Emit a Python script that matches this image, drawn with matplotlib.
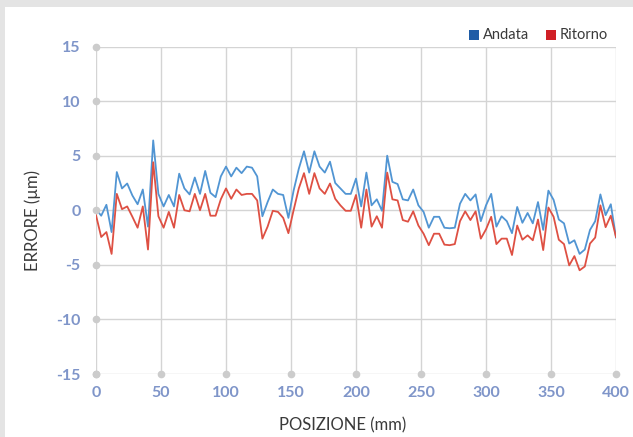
import numpy as np
import matplotlib
matplotlib.use("Agg")
import matplotlib.pyplot as plt
from matplotlib.patches import Rectangle

plt.rcParams["font.family"] = ["Lato", "DejaVu Sans"]
plt.rcParams["axes.unicode_minus"] = False

# posizioni di misura (mm), passo 4 mm
posizione = np.arange(0, 401, 4)

andata = [
    0.1, -0.5, 0.5, -2.0, 3.5, 2.0, 2.45, 1.35, 0.55, 1.9,
    -1.5, 6.4, 1.5, 0.35, 1.4, 0.35, 3.35, 2.0, 1.45, 3.0,
    1.5, 3.6, 1.6, 1.2, 3.1, 4.0, 3.1, 3.9, 3.4, 4.0,
    3.9, 3.1, -0.55, 0.75, 1.9, 1.5, 1.4, -0.7, 1.8, 3.8,
    5.4, 3.45, 5.4, 4.0, 3.45, 4.45, 2.5, 2.0, 1.5, 1.5,
    2.9, 0.35, 3.45, 0.45, 1.0, -0.05, 5.0, 2.6, 2.4, 1.0,
    0.9, 1.9, 0.45, -0.15, -1.6, -0.6, -0.6, -1.6, -1.65, -1.6,
    0.6, 1.5, 0.9, 1.45, -1.0, 0.45, 1.5, -1.5, -0.55, -1.0,
    -2.1, 0.3, -1.15, -0.25, -1.2, 0.75, -1.8, 1.8, 0.95, -0.85,
    -1.2, -3.05, -2.75, -4.0, -3.6, -1.8, -1.0, 1.45, -0.45, 0.55,
    -2.5,
]

ritorno = [
    -0.45, -2.45, -2.0, -4.0, 1.5, 0.1, 0.35, -0.6, -1.6, 0.35,
    -3.6, 4.4, -0.55, -1.6, -0.15, -1.6, 1.4, 0.0, -0.1, 1.5,
    0.0, 1.5, -0.5, -0.5, 1.0, 2.0, 1.05, 1.9, 1.4, 1.5,
    1.5, 0.9, -2.6, -1.5, -0.05, -0.15, -0.7, -2.1, 0.0, 2.0,
    3.4, 1.5, 3.4, 2.0, 1.5, 2.45, 1.05, 0.45, -0.05, -0.05,
    1.4, -1.6, 1.9, -1.5, -0.55, -1.6, 3.45, 1.0, 0.9, -0.9,
    -1.05, -0.1, -1.4, -2.15, -3.2, -2.15, -2.15, -3.15, -3.2, -3.1,
    -1.0, -0.1, -0.9, -0.1, -2.6, -1.75, -0.6, -3.1, -2.6, -2.6,
    -4.1, -1.4, -2.7, -2.3, -2.75, -0.85, -3.65, 0.25, -0.6, -2.7,
    -3.1, -5.05, -4.2, -5.5, -5.15, -3.05, -2.5, 0.45, -1.55, -0.5,
    -2.45,
]

x_ticks = list(range(0, 401, 50))
y_ticks = list(range(-15, 16, 5))

tick_col = "#7f95c9"
grid_col = "#d4d4d4"
text_col = "#3a3a3a"

fig = plt.figure(figsize=(6.33, 4.37), dpi=100)
fig.patch.set_facecolor("#e4e4e4")
# pannello bianco
fig.patches.append(Rectangle((5 / 633, 0), 1, 1 - 7 / 437, transform=fig.transFigure,
                             facecolor="white", edgecolor="none", zorder=-10))

ax = fig.add_axes([96 / 633, 1 - 374 / 437, (616 - 96) / 633, (374 - 46.5) / 437])
ax.set_zorder(1)
ax.set_facecolor("none")

ax.plot(posizione, andata, color="#5195d3", lw=1.3, zorder=3)
ax.plot(posizione, ritorno, color="#de5043", lw=1.3, zorder=3)

ax.set_xlim(0, 400)
ax.set_ylim(-15, 15)
ax.set_xticks(x_ticks)
ax.set_yticks(y_ticks)
ax.grid(True, color=grid_col, lw=1.0, zorder=1)
for s in ax.spines.values():
    s.set_visible(False)
ax.tick_params(length=0, colors=tick_col, labelsize=11.5)
ax.tick_params(axis="y", pad=11)
ax.tick_params(axis="x", pad=8.5)
for lab in ax.get_xticklabels() + ax.get_yticklabels():
    lab.set_fontweight("bold")
    lab.set_color(tick_col)

# pallini sugli assi
ax.plot([0] * len(y_ticks), y_ticks, "o", color="#cccccc", ms=4.5, clip_on=False, zorder=4)
ax.plot(x_ticks, [-15] * len(x_ticks), "o", color="#cccccc", ms=4.5, clip_on=False, zorder=4)

ax.set_xlabel("POSIZIONE (mm)", fontsize=12, color=text_col)
ax.set_ylabel("ERRORE (µm)", fontsize=12, color=text_col)
ax.xaxis.set_label_coords(0.475, -0.131)
ax.yaxis.set_label_coords(-0.106, 0.47)

# legenda
fig.patches.append(Rectangle((469 / 633, 1 - 40 / 437), 10 / 633, 10 / 437,
                             transform=fig.transFigure, facecolor="#1f5ca6", edgecolor="none", zorder=2))
fig.text(483 / 633, 1 - 35 / 437, "Andata", fontsize=10.5, color=text_col, va="center")
fig.patches.append(Rectangle((546 / 633, 1 - 40 / 437), 10 / 633, 10 / 437,
                             transform=fig.transFigure, facecolor="#d01f26", edgecolor="none", zorder=2))
fig.text(560 / 633, 1 - 35 / 437, "Ritorno", fontsize=10.5, color=text_col, va="center")

fig.savefig("out.png", dpi=100)
